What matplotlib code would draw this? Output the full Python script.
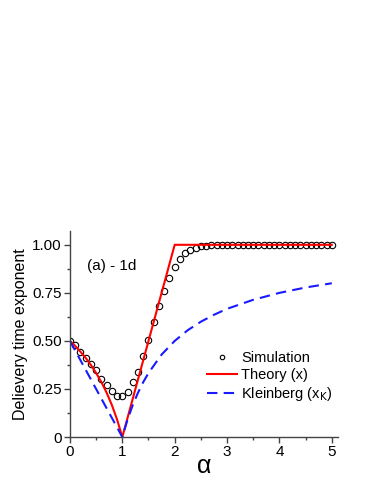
import matplotlib
matplotlib.use("Agg")
import matplotlib.pyplot as plt
from matplotlib.ticker import MultipleLocator, FixedFormatter, FixedLocator

plt.rcParams['font.family'] = ['Liberation Sans', 'DejaVu Sans']

# simulation points, alpha = 0 .. 5 step 0.1
sim_alpha = [round(0.1 * i, 1) for i in range(51)]
sim_x = [0.50, 0.48, 0.44, 0.41, 0.38, 0.35, 0.30, 0.27, 0.24, 0.215,
         0.215, 0.235, 0.285, 0.34, 0.42, 0.505, 0.60, 0.68, 0.76, 0.825,
         0.885, 0.925, 0.955, 0.975, 0.985, 0.993, 0.996, 0.998, 1.0, 1.0,
         1.0, 1.0, 1.0, 1.0, 1.0, 1.0, 1.0, 1.0, 1.0, 1.0,
         1.0, 1.0, 1.0, 1.0, 1.0, 1.0, 1.0, 1.0, 1.0, 1.0, 1.0]

# theory curve
th_alpha = [0.0, 0.1, 0.2, 0.3, 0.4, 0.5, 0.6, 0.7, 0.8, 0.9, 1.0, 2.0, 5.0]
th_x = [0.50, 0.474, 0.444, 0.412, 0.375, 0.333, 0.286, 0.231, 0.167, 0.091, 0.0, 1.0, 1.0]

# Kleinberg curve
kl_alpha = [0.0, 0.5, 1.0, 1.1, 1.2, 1.3, 1.4, 1.5, 1.75, 2.0, 2.25, 2.5, 2.75,
            3.0, 3.5, 4.0, 4.5, 5.0]
kl_x = [0.50, 0.25, 0.0, 0.091, 0.167, 0.231, 0.286, 0.333, 0.429, 0.50, 0.556,
        0.60, 0.636, 0.667, 0.714, 0.75, 0.778, 0.80]

fig = plt.figure(figsize=(3.74, 4.84), dpi=100)
ax = fig.add_axes([0.187, 0.097, 0.717, 0.425])

ax.plot(sim_alpha, sim_x, 'o', mfc='none', mec='black', ms=4.6, mew=0.8,
        label='Simulation')
ax.plot(th_alpha, th_x, '-', color='red', lw=1.5, label='Theory (x)')
ax.plot(kl_alpha, kl_x, '--', color='#1a1aff', lw=1.5, dashes=(5, 3),
        label='Kleinberg (x$_{\\rm K}$)')

ax.set_xlim(0, 5.12)
ax.set_ylim(0, 1.07)
ax.spines['top'].set_visible(False)
ax.spines['right'].set_visible(False)
for s in ('left', 'bottom'):
    ax.spines[s].set_color('#444444')
    ax.spines[s].set_linewidth(1.0)

ax.xaxis.set_major_locator(FixedLocator([0, 1, 2, 3, 4, 5]))
ax.xaxis.set_minor_locator(MultipleLocator(0.5))
ax.yaxis.set_major_locator(FixedLocator([0, 0.25, 0.5, 0.75, 1.0]))
ax.yaxis.set_major_formatter(FixedFormatter(['0', '0.25', '0.50', '0.75', '1.00']))
ax.yaxis.set_minor_locator(MultipleLocator(0.125))
ax.tick_params(which='major', direction='out', length=4, width=1, color='#444444',
               labelsize=11, pad=2)
ax.tick_params(which='minor', direction='out', length=2, width=1, color='#444444')

ax.set_xlabel('α', fontsize=18, labelpad=-4)
ax.set_ylabel('Delievery time exponent', fontsize=11.5, labelpad=3)

ax.text(0.33, 0.87, '(a) - 1d', fontsize=11)

ax.legend(loc='center right', bbox_to_anchor=(1.0, 0.29), frameon=False,
          fontsize=10.5, handlelength=2.0, handletextpad=0.3, labelspacing=0.2,
          borderaxespad=0, markerscale=0.7)

fig.savefig('out.png', dpi=100)
